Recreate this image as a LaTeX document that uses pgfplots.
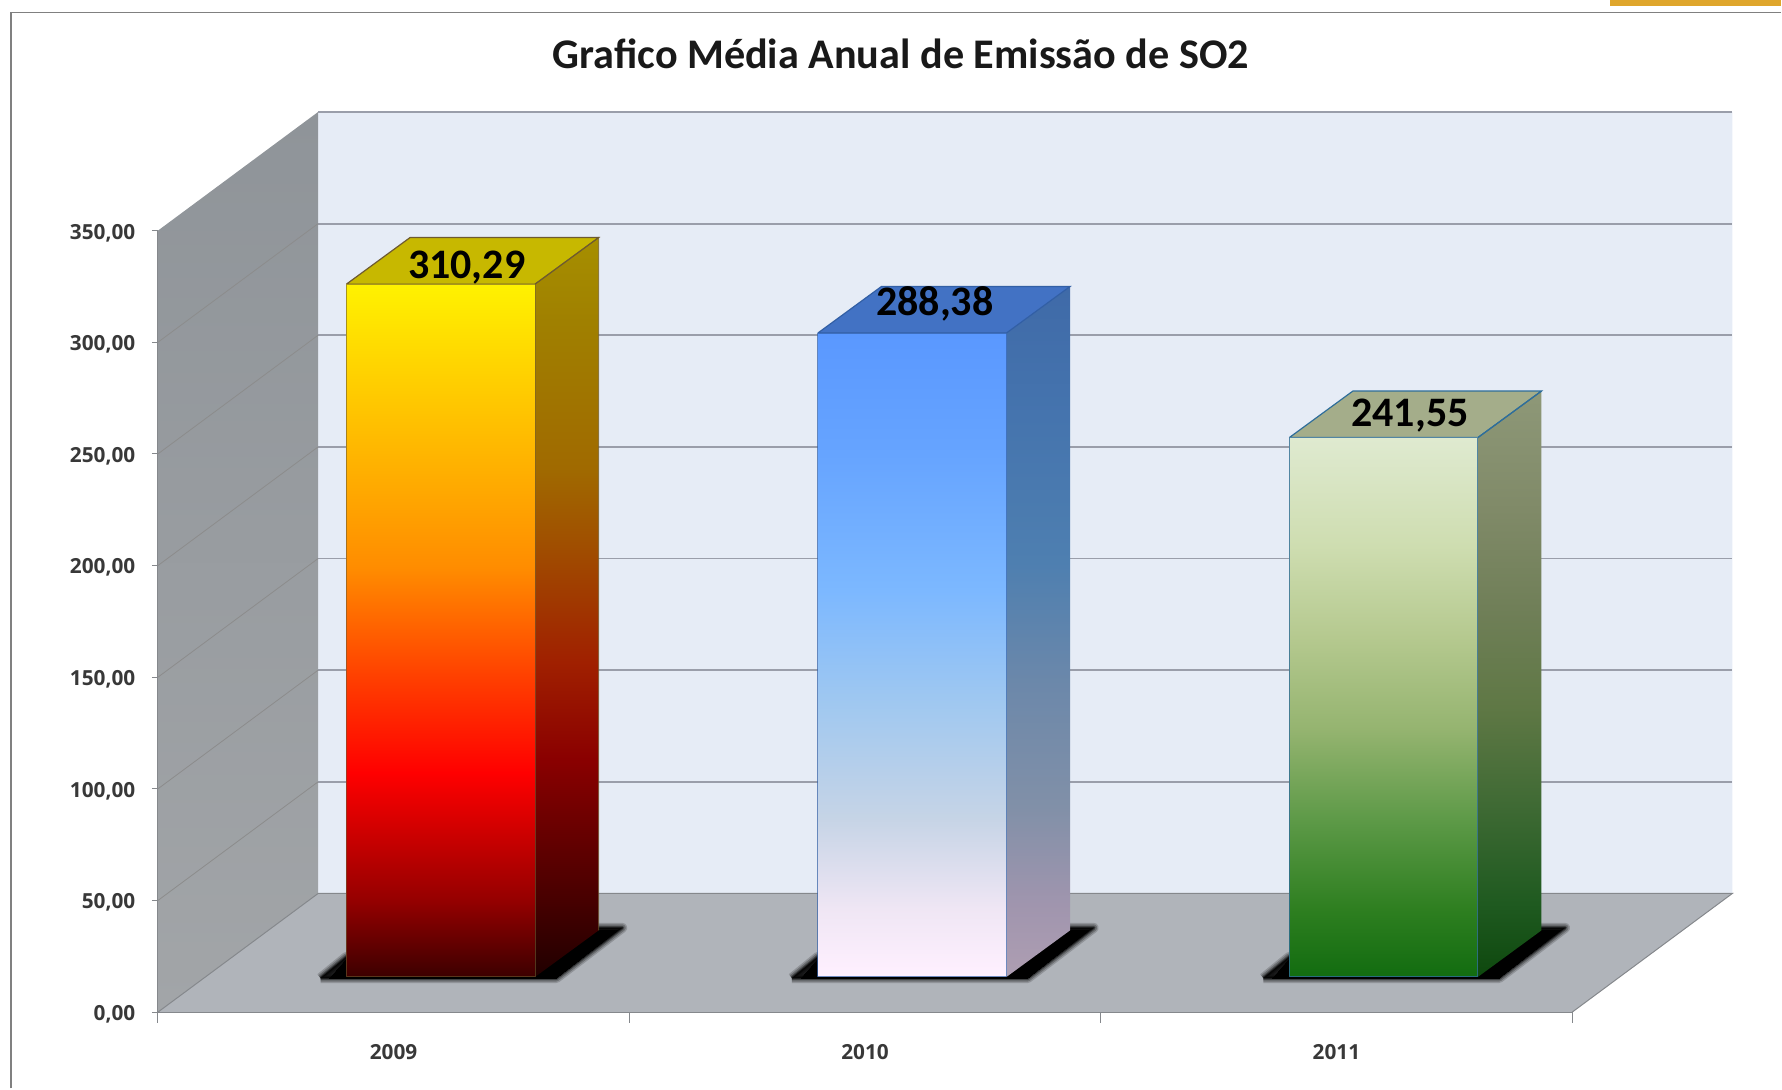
\documentclass[border=0pt]{standalone}
\usepackage{fontspec}
\usepackage{pgfplots}
\pgfplotsset{compat=1.18}
\setmainfont{Carlito}
\newfontfamily\tickfont{Open Sans}
\definecolor{frontwall}{HTML}{E6ECF6}
\definecolor{floorc}{HTML}{B0B4BA}
\definecolor{gridc}{HTML}{9A9EAA}
\definecolor{edgec}{HTML}{85888C}
\definecolor{a0}{HTML}{3C0000}\definecolor{a1}{HTML}{960000}\definecolor{a2}{HTML}{FF0000}\definecolor{a3}{HTML}{FF3C00}\definecolor{a4}{HTML}{FF8C00}\definecolor{a5}{HTML}{FFA500}\definecolor{a6}{HTML}{FFD500}\definecolor{a7}{HTML}{FFF200}
\definecolor{as0}{HTML}{200000}\definecolor{as1}{HTML}{4A0000}\definecolor{as2}{HTML}{8A0000}\definecolor{as3}{HTML}{A02000}\definecolor{as4}{HTML}{A05000}\definecolor{as5}{HTML}{A06A00}\definecolor{as6}{HTML}{A08000}\definecolor{as7}{HTML}{A68F00}
\definecolor{b0}{HTML}{FFF0FF}\definecolor{b1}{HTML}{EFE6F4}\definecolor{b2}{HTML}{C6D4E6}\definecolor{b3}{HTML}{A0C8F0}\definecolor{b4}{HTML}{7CB8FF}\definecolor{b5}{HTML}{66A4FF}\definecolor{b6}{HTML}{5A98FF}
\definecolor{bs0}{HTML}{AE9EB2}\definecolor{bs1}{HTML}{A095AE}\definecolor{bs2}{HTML}{8190A8}\definecolor{bs3}{HTML}{6C88AA}\definecolor{bs4}{HTML}{4E7FB0}\definecolor{bs5}{HTML}{4574AE}\definecolor{bs6}{HTML}{3F6AA8}
\definecolor{c0}{HTML}{126C10}\definecolor{c1}{HTML}{2E7F20}\definecolor{c2}{HTML}{5E9A48}\definecolor{c3}{HTML}{95B470}\definecolor{c4}{HTML}{B5C98F}\definecolor{c5}{HTML}{CEDDB0}\definecolor{c6}{HTML}{DFEAD0}
\definecolor{cs0}{HTML}{0E480E}\definecolor{cs1}{HTML}{1F5A20}\definecolor{cs2}{HTML}{3F6A34}\definecolor{cs3}{HTML}{5F7845}\definecolor{cs4}{HTML}{707F58}\definecolor{cs5}{HTML}{808A68}\definecolor{cs6}{HTML}{8E9878}
\definecolor{w0}{HTML}{A2A5A8}\definecolor{w1}{HTML}{8F9499}
\definecolor{topA}{HTML}{C7B800}\definecolor{topB}{HTML}{4272C4}\definecolor{topC}{HTML}{A4AD8A}
\definecolor{lineA}{HTML}{6E5A30}\definecolor{lineB}{HTML}{325FA5}\definecolor{lineC}{HTML}{2F6E9A}
\definecolor{goldbar}{HTML}{DFA62C}
\pgfdeclareverticalshading{shFrontA}{100bp}{color(0bp)=(a0);color(25bp)=(a0);color(30.6bp)=(a1);color(39.75bp)=(a2);color(46.3bp)=(a3);color(54.5bp)=(a4);color(59.4bp)=(a5);color(69.3bp)=(a6);color(75bp)=(a7);color(100bp)=(a7)}
\pgfdeclareverticalshading{shSideA}{100bp}{color(0bp)=(as0);color(25bp)=(as0);color(30.6bp)=(as1);color(39.75bp)=(as2);color(46.3bp)=(as3);color(54.5bp)=(as4);color(59.4bp)=(as5);color(69.3bp)=(as6);color(75bp)=(as7);color(100bp)=(as7)}
\pgfdeclareverticalshading{shFrontB}{100bp}{color(0bp)=(b0);color(25bp)=(b0);color(30.3bp)=(b1);color(37.3bp)=(b2);color(46.2bp)=(b3);color(55bp)=(b4);color(65.6bp)=(b5);color(75bp)=(b6);color(100bp)=(b6)}
\pgfdeclareverticalshading{shSideB}{100bp}{color(0bp)=(bs0);color(25bp)=(bs0);color(30.3bp)=(bs1);color(37.3bp)=(bs2);color(46.2bp)=(bs3);color(55bp)=(bs4);color(65.6bp)=(bs5);color(75bp)=(bs6);color(100bp)=(bs6)}
\pgfdeclareverticalshading{shFrontC}{100bp}{color(0bp)=(c0);color(25bp)=(c0);color(31.3bp)=(c1);color(39.7bp)=(c2);color(48bp)=(c3);color(56.5bp)=(c4);color(64.9bp)=(c5);color(75bp)=(c6);color(100bp)=(c6)}
\pgfdeclareverticalshading{shSideC}{100bp}{color(0bp)=(cs0);color(25bp)=(cs0);color(31.3bp)=(cs1);color(39.7bp)=(cs2);color(48bp)=(cs3);color(56.5bp)=(cs4);color(64.9bp)=(cs5);color(75bp)=(cs6);color(100bp)=(cs6)}
\pgfdeclareverticalshading{shWall}{100bp}{color(0bp)=(w0);color(25bp)=(w0);color(75bp)=(w1);color(100bp)=(w1)}
\pgfplotsset{shadowpoly/.style={fill=black,draw=black,line join=round},
 common/.style={scale only axis,width=707.4pt,height=390.9pt,xmin=0,xmax=3,ymin=0,ymax=350,clip=false}}
\begin{document}
\begin{tikzpicture}
\begin{scope}[x=0.5682pt,y=-0.5682pt,shift={(-78.98pt,506.27pt)}]
\path[use as bounding box] (0,0) rectangle (1568,958);
\end{scope}
\begin{axis}[common,at={(0,0)},anchor=south west,axis on top,
  axis x line=bottom,axis y line=left,axis line style={-,edgec,line width=0.5pt},
  xtick={0.5,1.5,2.5},xticklabels={2009,2010,2011},
  ytick={0,50,100,150,200,250,300,350},
  tick style={color=edgec,line width=0.5pt},
  x tick style={draw=none,/pgfplots/major tick length=5.5pt},
  y tick style={/pgfplots/major tick length=3pt},
  tick align=outside,
  x tick label style={yshift=-8.1pt},
  tick label style={font=\tickfont\bfseries\fontsize{10.4}{12}\selectfont,color=black!78},
  y tick label style={xshift=-3.5pt,yshift=-1.1pt},
  /pgf/number format/assume math mode=true,
  /pgf/number format/fixed,/pgf/number format/fixed zerofill,/pgf/number format/precision=2,
  /pgf/number format/use comma,/pgf/number format/1000 sep={}]
% back wall, left wall, floor
\addplot[fill=frontwall,draw=none] coordinates {(0.3398,53.15)(3.3398,53.15)(3.3398,403.15)(0.3398,403.15)(0.3398,53.15)};
\addplot[shading=shWall,draw=none] coordinates {(0,0)(0.3398,53.15)(0.3398,403.15)(0,350)(0,0)};
\addplot[fill=floorc,draw=none] coordinates {(0,0)(3,0)(3.3398,53.15)(0.3398,53.15)(0,0)};
\addplot[edgec,line width=0.5pt] coordinates {(0,0)(0.3398,53.15)(3.3398,53.15)(3,0)};
% category boundary ticks
\addplot[edgec,line width=0.5pt] coordinates {(0,0)(0,-4.9)};
\addplot[edgec,line width=0.5pt] coordinates {(1,0)(1,-4.9)};
\addplot[edgec,line width=0.5pt] coordinates {(2,0)(2,-4.9)};
\addplot[edgec,line width=0.5pt] coordinates {(3,0)(3,-4.9)};
% grid on the walls
\addplot[gridc,line width=0.9pt] coordinates {(0.3398,103.15)(3.3398,103.15)};
\addplot[gridc,line width=0.9pt] coordinates {(0.3398,153.15)(3.3398,153.15)};
\addplot[gridc,line width=0.9pt] coordinates {(0.3398,203.15)(3.3398,203.15)};
\addplot[gridc,line width=0.9pt] coordinates {(0.3398,253.15)(3.3398,253.15)};
\addplot[gridc,line width=0.9pt] coordinates {(0.3398,303.15)(3.3398,303.15)};
\addplot[gridc,line width=0.9pt] coordinates {(0.3398,353.15)(3.3398,353.15)};
\addplot[gridc,line width=0.9pt] coordinates {(0.3398,403.15)(3.3398,403.15)};
\addplot[black!45,line width=0.4pt] coordinates {(0,50)(0.3398,103.15)};
\addplot[black!45,line width=0.4pt] coordinates {(0,100)(0.3398,153.15)};
\addplot[black!45,line width=0.4pt] coordinates {(0,150)(0.3398,203.15)};
\addplot[black!45,line width=0.4pt] coordinates {(0,200)(0.3398,253.15)};
\addplot[black!45,line width=0.4pt] coordinates {(0,250)(0.3398,303.15)};
\addplot[black!45,line width=0.4pt] coordinates {(0,300)(0.3398,353.15)};
\end{axis}
\begin{axis}[common,at={(23.58pt,17.61pt)},anchor=south west,hide axis]
% contact shadows
\addplot[shadowpoly,opacity=0.18,line width=5pt] coordinates {(0.245,-0.5)(0.745,-0.5)(0.885,22)(0.835,22)(0.3,9)(0.245,-0.5)};
\addplot[shadowpoly,opacity=0.25,line width=3.5pt] coordinates {(0.245,-0.5)(0.745,-0.5)(0.885,22)(0.835,22)(0.3,9)(0.245,-0.5)};
\addplot[shadowpoly,opacity=0.35,line width=2pt] coordinates {(0.245,-0.5)(0.745,-0.5)(0.885,22)(0.835,22)(0.3,9)(0.245,-0.5)};
\addplot[shadowpoly,opacity=0.5,line width=1pt] coordinates {(0.245,-0.5)(0.745,-0.5)(0.885,22)(0.835,22)(0.3,9)(0.245,-0.5)};
\addplot[shadowpoly,line width=0pt] coordinates {(0.265,-0.5)(0.745,-0.5)(0.875,21)(0.835,21)(0.3,8)(0.265,-0.5)};
\addplot[shadowpoly,opacity=0.18,line width=5pt] coordinates {(1.245,-0.5)(1.745,-0.5)(1.885,22)(1.835,22)(1.3,9)(1.245,-0.5)};
\addplot[shadowpoly,opacity=0.25,line width=3.5pt] coordinates {(1.245,-0.5)(1.745,-0.5)(1.885,22)(1.835,22)(1.3,9)(1.245,-0.5)};
\addplot[shadowpoly,opacity=0.35,line width=2pt] coordinates {(1.245,-0.5)(1.745,-0.5)(1.885,22)(1.835,22)(1.3,9)(1.245,-0.5)};
\addplot[shadowpoly,opacity=0.5,line width=1pt] coordinates {(1.245,-0.5)(1.745,-0.5)(1.885,22)(1.835,22)(1.3,9)(1.245,-0.5)};
\addplot[shadowpoly,line width=0pt] coordinates {(1.265,-0.5)(1.745,-0.5)(1.875,21)(1.835,21)(1.3,8)(1.265,-0.5)};
\addplot[shadowpoly,opacity=0.18,line width=5pt] coordinates {(2.245,-0.5)(2.745,-0.5)(2.885,22)(2.835,22)(2.3,9)(2.245,-0.5)};
\addplot[shadowpoly,opacity=0.25,line width=3.5pt] coordinates {(2.245,-0.5)(2.745,-0.5)(2.885,22)(2.835,22)(2.3,9)(2.245,-0.5)};
\addplot[shadowpoly,opacity=0.35,line width=2pt] coordinates {(2.245,-0.5)(2.745,-0.5)(2.885,22)(2.835,22)(2.3,9)(2.245,-0.5)};
\addplot[shadowpoly,opacity=0.5,line width=1pt] coordinates {(2.245,-0.5)(2.745,-0.5)(2.885,22)(2.835,22)(2.3,9)(2.245,-0.5)};
\addplot[shadowpoly,line width=0pt] coordinates {(2.265,-0.5)(2.745,-0.5)(2.875,21)(2.835,21)(2.3,8)(2.265,-0.5)};
% 2009
\addplot[shading=shSideA,draw=none] coordinates {(0.7,0)(0.8349,20.85)(0.8349,331.14)(0.7,310.29)(0.7,0)};
\addplot[fill=topA,draw=lineA,line width=0.6pt] coordinates {(0.3,310.29)(0.4349,331.14)(0.8349,331.14)(0.7,310.29)(0.3,310.29)};
\addplot[draw=lineA,draw opacity=0.6,line width=0.5pt] coordinates {(0.7,310.29)(0.8349,331.14)(0.8349,20.85)};
\addplot[ybar,bar width=94.3pt,bar shift=0pt,shading=shFrontA,draw=lineA,draw opacity=0.6,line width=0.5pt] coordinates {(0.5,310.29)};
% 2010
\addplot[shading=shSideB,draw=none] coordinates {(1.7,0)(1.8349,20.85)(1.8349,309.23)(1.7,288.38)(1.7,0)};
\addplot[fill=topB,draw=lineB,line width=0.6pt] coordinates {(1.3,288.38)(1.4349,309.23)(1.8349,309.23)(1.7,288.38)(1.3,288.38)};
\addplot[ybar,bar width=94.3pt,bar shift=0pt,shading=shFrontB,draw=lineB,draw opacity=0.7,line width=0.5pt] coordinates {(1.5,288.38)};
% 2011
\addplot[shading=shSideC,draw=none] coordinates {(2.7,0)(2.8349,20.85)(2.8349,262.40)(2.7,241.55)(2.7,0)};
\addplot[fill=topC,draw=lineC,line width=0.6pt] coordinates {(2.3,241.55)(2.4349,262.40)(2.8349,262.40)(2.7,241.55)(2.3,241.55)};
\addplot[draw=lineC,line width=0.6pt] coordinates {(2.7,241.55)(2.8349,262.40)};
\addplot[ybar,bar width=94.3pt,bar shift=0pt,shading=shFrontC,draw=lineC,draw opacity=0.8,line width=0.5pt] coordinates {(2.5,241.55)};
% value labels
\node[font=\bfseries\fontsize{21}{24}\selectfont,text=black] at (axis cs:0.555,317.9) {310,29};
\node[font=\bfseries\fontsize{21}{24}\selectfont,text=black] at (axis cs:1.548,301.6) {288,38};
\node[font=\bfseries\fontsize{21}{24}\selectfont,text=black] at (axis cs:2.556,251.4) {241,55};
\end{axis}
\begin{scope}[x=0.5682pt,y=-0.5682pt,shift={(-78.98pt,506.27pt)}]
\draw[black!50,line width=0.8pt] (9.5,958) -- (9.5,11) -- (1568,11);
\fill[goldbar] (1417,0) rectangle (1568,5);
\node[font=\bfseries\fontsize{21.1}{24}\selectfont,text=black!90] at (793,47) {Grafico Média Anual de Emissão de SO2};
\end{scope}
\end{tikzpicture}
\end{document}
